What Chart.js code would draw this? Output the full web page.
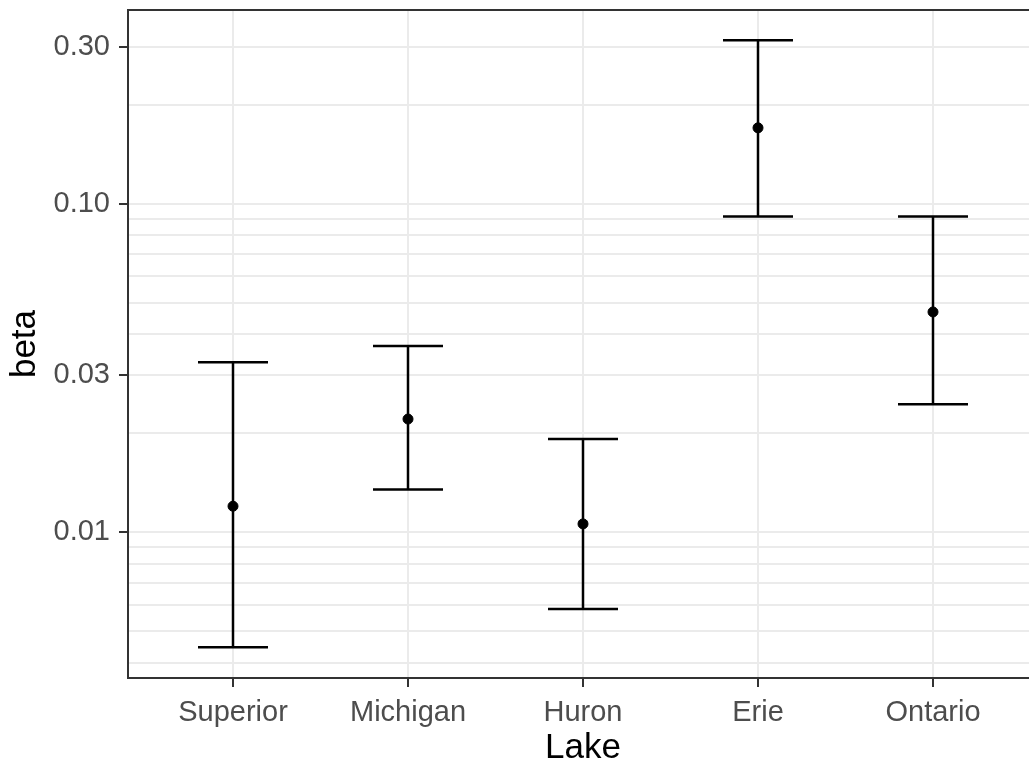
<!DOCTYPE html>
<html>
<head>
<meta charset="utf-8">
<script src="https://cdn.jsdelivr.net/npm/chart.js@4/dist/chart.umd.min.js"></script>
<style>
  html, body { margin: 0; padding: 0; background: #fff; overflow: hidden; }
  canvas { display: block; }
</style>
</head>
<body>
<canvas id="chart" width="1044" height="769"></canvas>
<script>
// lake estimates with interval bounds
var lakes = ['Superior', 'Michigan', 'Huron', 'Erie', 'Ontario'];
var beta = [0.0120, 0.0221, 0.0106, 0.170, 0.0468];
var lower = [0.00447, 0.0135, 0.00584, 0.0914, 0.0245];
var upper = [0.0329, 0.0369, 0.0192, 0.314, 0.0914];

// y axis breaks
var majorTicks = [0.01, 0.03, 0.1, 0.3];
var majorLabels = ['0.01', '0.03', '0.10', '0.30'];
var minorTicks = [0.004, 0.005, 0.006, 0.007, 0.008, 0.009, 0.02,
                  0.04, 0.05, 0.06, 0.07, 0.08, 0.09, 0.2];

var capHalf = 0.2;

function isMajor(v) {
  return majorTicks.some(function (m) { return Math.abs(m - v) < 1e-9; });
}

var errorBars = {
  id: 'errorBars',
  beforeDatasetsDraw: function (chart) {
    var ctx = chart.ctx, x = chart.scales.x, y = chart.scales.y;
    ctx.save();
    ctx.strokeStyle = '#000000';
    ctx.lineWidth = 2.5;
    lakes.forEach(function (_, i) {
      var cx = x.getPixelForValue(i);
      var x0 = x.getPixelForValue(i - capHalf);
      var x1 = x.getPixelForValue(i + capHalf);
      var yl = y.getPixelForValue(lower[i]);
      var yu = y.getPixelForValue(upper[i]);
      ctx.beginPath();
      ctx.moveTo(cx, yu); ctx.lineTo(cx, yl);
      ctx.moveTo(x0, yu); ctx.lineTo(x1, yu);
      ctx.moveTo(x0, yl); ctx.lineTo(x1, yl);
      ctx.stroke();
    });
    ctx.restore();
  },
  afterDatasetsDraw: function (chart) {
    var ctx = chart.ctx, a = chart.chartArea;
    ctx.save();
    ctx.strokeStyle = '#333333';
    ctx.lineWidth = 2;
    ctx.strokeRect(a.left, a.top, a.right - a.left - 1, a.bottom - a.top);
    ctx.restore();
  }
};

var data = {
  datasets: [{
    label: 'beta',
    data: lakes.map(function (_, i) { return { x: i, y: beta[i] }; }),
    backgroundColor: '#000000',
    borderColor: '#000000',
    pointRadius: 5,
    pointHoverRadius: 5,
    showLine: false
  }]
};

var options = {
  responsive: false,
  animation: false,
  layout: { padding: { top: 10, left: 0, right: 0, bottom: 0 } },
  plugins: {
    legend: { display: false },
    tooltip: { enabled: false }
  },
  scales: {
    x: {
      type: 'linear',
      min: -0.6,
      max: 4.6,
      afterBuildTicks: function (scale) {
        scale.ticks = lakes.map(function (_, i) { return { value: i }; });
      },
      afterFit: function (scale) {
        scale.height = 91;
        scale.paddingLeft = 0;
        scale.paddingRight = 0;
      },
      border: { display: false },
      grid: {
        color: '#ebebeb',
        lineWidth: 2,
        tickColor: '#333333',
        tickLength: 9,
        tickWidth: 2
      },
      ticks: {
        color: '#4d4d4d',
        font: { family: 'Liberation Sans, Arial', size: 29 },
        padding: 9,
        maxRotation: 0,
        autoSkip: false,
        callback: function (v) { return lakes[v]; }
      },
      title: {
        display: true,
        text: 'Lake',
        color: '#000000',
        font: { family: 'Liberation Sans, Arial', size: 35 },
        padding: { top: 0, bottom: 0 }
      }
    },
    y: {
      type: 'logarithmic',
      min: 0.003601,
      max: 0.3882,
      afterBuildTicks: function (scale) {
        scale.ticks = minorTicks.concat(majorTicks)
          .sort(function (a, b) { return a - b; })
          .map(function (v) { return { value: v, major: isMajor(v) }; });
      },
      afterFit: function (scale) {
        scale.width = 128;
        scale.paddingTop = 0;
        scale.paddingBottom = 0;
      },
      border: { display: false },
      grid: {
        color: '#ebebeb',
        lineWidth: 2,
        tickLength: 9,
        tickWidth: 2,
        tickColor: function (c) {
          return c.tick && isMajor(c.tick.value) ? '#333333' : 'rgba(0,0,0,0)';
        }
      },
      ticks: {
        color: '#4d4d4d',
        font: { family: 'Liberation Sans, Arial', size: 29 },
        padding: 9,
        autoSkip: false,
        callback: function (v) {
          var k = majorTicks.findIndex(function (m) { return Math.abs(m - v) < 1e-9; });
          return k >= 0 ? majorLabels[k] : '';
        }
      },
      title: {
        display: true,
        text: 'beta',
        color: '#000000',
        font: { family: 'Liberation Sans, Arial', size: 35 },
        padding: { top: 4, bottom: 0 }
      }
    }
  }
};

new Chart('chart', {
  type: 'scatter',
  data: data,
  options: options,
  plugins: [errorBars]
});
</script>
</body>
</html>
